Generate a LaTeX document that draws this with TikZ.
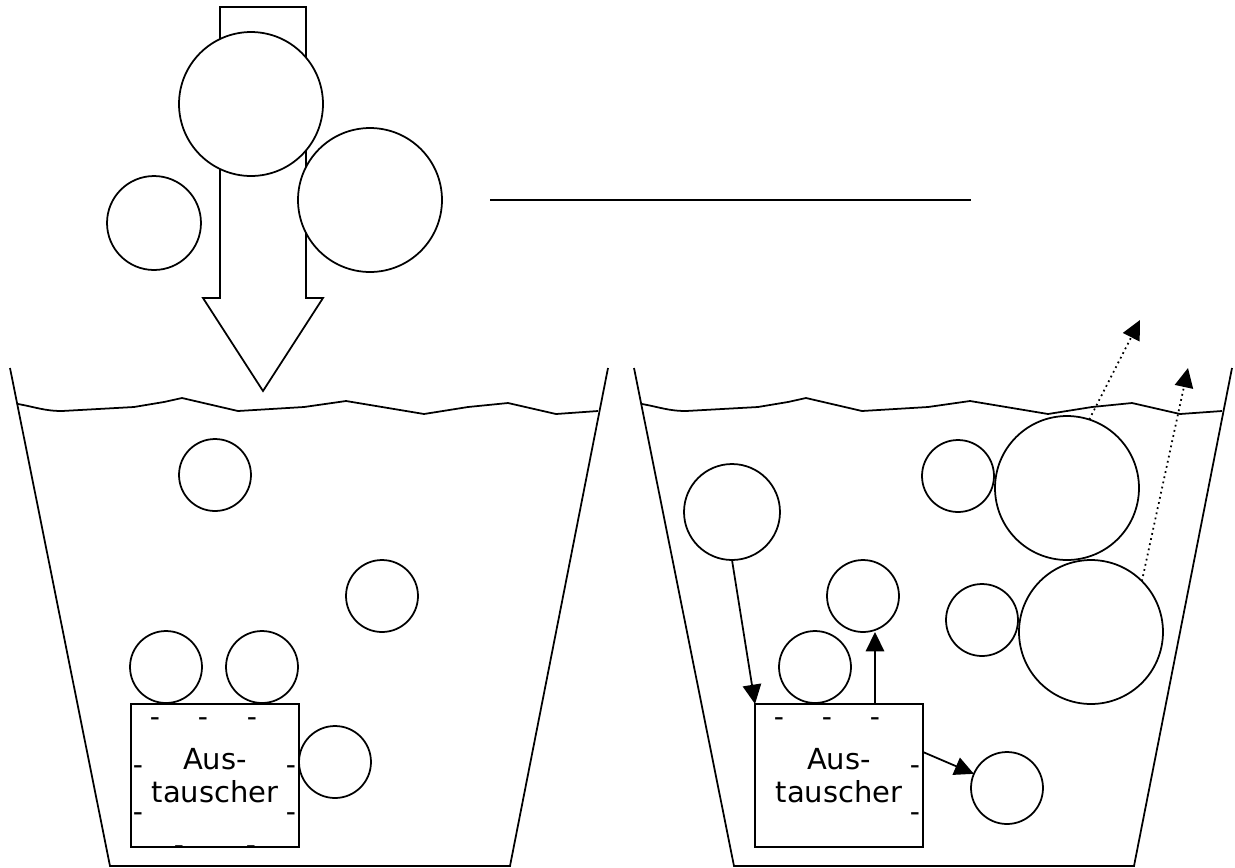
\documentclass[tikz,border=0pt]{standalone}
\usepackage{fontspec}
\newfontfamily\boxfont{DejaVu Sans}
\usepackage{tikz}
\usetikzlibrary{arrows.meta, positioning}

\tikzset{
  ball/.style={circle, draw, fill=white, line width=1pt, inner sep=0pt, outer sep=0pt},
  small/.style={ball, minimum size=1.44cm},
  medium/.style={ball, minimum size=1.92cm},
  large/.style={ball, minimum size=2.88cm},
  xbox/.style={draw, line width=1.2pt, fill=white, minimum width=3.36cm, minimum height=2.86cm,
    inner sep=0pt, outer sep=0pt, align=center, font=\boxfont\fontsize{16.5}{19}\selectfont},
  minus/.style={inner sep=0pt, anchor=base, font=\boxfont\fontsize{16}{18.7}\selectfont},
  conn/.style={line width=1pt, -{Triangle[length=11pt, width=10.5pt]}},
  escape/.style={line width=1pt, dotted, -{Triangle[length=11pt, width=10.5pt]}}
}

\begin{document}
\begin{tikzpicture}[x=0.02cm, y=-0.02cm, line width=1pt]
    \useasboundingbox (0,0) rectangle (1235,867);

    % Big arrow pointing into the left bucket
    \draw[fill=white] (220,7) -- (220,298) -- (203,298) -- (263,391) -- (323,298)
      -- (306,298) -- (306,7) -- cycle;

    % Balls falling in
    \node[large] (topball) at (251,104) {};
    \node[ball, minimum size=1.88cm] (leftball) at (154,223) {};
    \node[large] (rightball) at (370,200) {};

    % Line to fill in
    \draw (490,200) -- (971,200);

    % Both buckets with water surface
    \foreach \s in {0,624} {
      \begin{scope}[xshift=\s*0.02cm]
        \draw (10,368) -- (110,866) -- (510,866) -- (608,368);
        \draw (18,404) to[out=-10, in=180] (62,411) -- (134,407) -- (164,402) -- (182,398)
          -- (238,411) -- (304,407) -- (346,401) -- (424,414) -- (468,407)
          -- (508,403) -- (556,414) -- (598,411);
      \end{scope}
    }

    % Left bucket: exchanger with bound ions (baselines of the minus signs)
    \node[xbox] (box1) at (215,775.5) {Aus-\\tauscher};
    \foreach \x/\y in {155/726, 203/726, 252/726, 138/774, 138/821, 291/774, 291/821, 179/854, 251/854}
      \node[minus] (dashL-\x-\y) at (\x,\y) {-};

    \node[small] (ionA) at (215,475) {};
    \node[small] (ionB) at (382,596) {};
    \node[small] (ionC) at (166,667) {};
    \node[small] (ionD) at (262,667) {};
    \node[small] (ionE) at (335,762) {};

    % Right bucket: exchanger after the exchange
    \node[xbox] (box2) at (839,775.5) {Aus-\\tauscher};
    \foreach \x/\y in {779/726, 827/726, 875/726, 915/774, 915/821}
      \node[minus] (dashR-\x-\y) at (\x,\y) {-};

    \node[medium] (inball) at (732,512) {};
    \node[small] (upball) at (863,596) {};
    \node[small] (seatball) at (815,667) {};
    \node[small] (outball) at (1007,788) {};
    \node[small] (ionF) at (958,476) {};
    \node[large] (bigA) at (1067,488) {};
    \node[small] (ionG) at (982,620) {};
    \node[large] (bigB) at (1091,632) {};

    % Exchange arrows
    \coordinate (upfoot) at (875,704);
    \coordinate (sidefoot) at (923,752);
    \draw[conn] (inball.south) -- (box2.north west);
    \draw[conn] (upfoot) -- (upfoot |- upball.south);
    \draw[conn] (sidefoot) -- (outball);

    % Escaping gas
    \coordinate (escA) at (1140,320);
    \coordinate (escB) at (1188,368);
    \draw[escape] (bigA.72) -- (escA);
    \draw[escape] (bigB.45) -- (escB);

  \end{tikzpicture}
\end{document}
